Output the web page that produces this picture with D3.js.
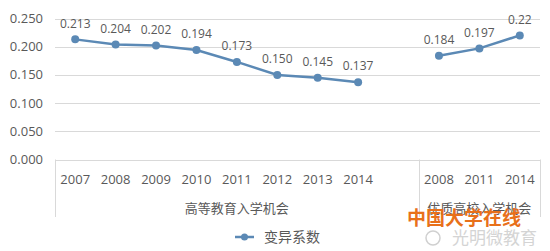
<!DOCTYPE html>
<meta charset="utf-8">
<style>
body{ margin:0; background:#fff; }
text{ font-family:"Open Sans","Noto Sans CJK SC",sans-serif; fill:#595959; }
.cjk{ font-family:"Noto Sans CJK SC",sans-serif; }
.grid line{ stroke:#d9d9d9; stroke-width:1; }
.series{ fill:none; stroke:#5b89b5; stroke-width:2.5; }
.dot{ fill:#5b89b5; }
</style>
<body>
<script src="https://d3js.org/d3.v7.min.js"></script>
<script>

var years1=["2007","2008","2009","2010","2011","2012","2013","2014"];
var values1=[0.213,0.204,0.202,0.194,0.173,0.150,0.145,0.137];
var years2=["2008","2011","2014"];
var values2=[0.184,0.197,0.22];
var groups=["高等教育入学机会","优质高校入学机会"];
var yTicks=[0,0.05,0.1,0.15,0.2,0.25];
var seriesName="变异系数";

var W=550,H=251;
var svg=d3.select("body").append("svg").attr("width",W).attr("height",H);

// 12 slots: group 1 (8 years + an empty slot), group 2 (3 years)
var keys=years1.map(d=>"a"+d).concat(["gap"]).concat(years2.map(d=>"b"+d));
var x=d3.scaleBand().domain(keys).range([55,540]).padding(0);
var y=d3.scaleLinear().domain([0,0.25]).range([159.5,18.5]);

// grid
svg.append("g").attr("class","grid").selectAll("line").data(yTicks).enter().append("line")
  .attr("x1",55).attr("x2",540)
  .attr("y1",d=>Math.round(y(d))+0.5).attr("y2",d=>Math.round(y(d))+0.5);

svg.append("g").selectAll("text").data(yTicks).enter().append("text")
  .attr("x",43).attr("y",d=>y(d)).attr("dy","0.35em")
  .attr("text-anchor","end").style("font-size","13px")
  .text(d=>d3.format(".3f")(d));

// category axis
var bounds=[x("a2007"),x("b2008"),x("b2014")+x.bandwidth()];
svg.append("g").attr("class","grid").selectAll("line").data(bounds).enter().append("line")
  .attr("x1",d=>Math.round(d)+0.5).attr("x2",d=>Math.round(d)+0.5)
  .attr("y1",159.5).attr("y2",217);

var cats=years1.map(d=>({k:"a"+d,t:d})).concat(years2.map(d=>({k:"b"+d,t:d})));
svg.append("g").selectAll("text").data(cats).enter().append("text")
  .attr("x",d=>x(d.k)+x.bandwidth()/2).attr("y",179).attr("dy","0.35em")
  .attr("text-anchor","middle").style("font-size","13px")
  .text(d=>d.t);

var gpos=[(bounds[0]+bounds[1])/2,(bounds[1]+bounds[2])/2];
svg.append("g").selectAll("text").data(groups).enter().append("text")
  .attr("class","cjk")
  .attr("x",(d,i)=>gpos[i]).attr("y",208).attr("dy","0.35em")
  .attr("text-anchor","middle").style("font-size","13px")
  .text(d=>d);

// series
var sets=[
  {pts:years1.map((d,i)=>({k:"a"+d,v:values1[i]})),fmt:d3.format(".3f")},
  {pts:years2.map((d,i)=>({k:"b"+d,v:values2[i]})),fmt:String}
];
var line=d3.line().x(d=>x(d.k)+x.bandwidth()/2).y(d=>y(d.v));

sets.forEach(function(s){
  svg.append("path").datum(s.pts).attr("class","series").attr("d",line);
  svg.append("g").selectAll("circle").data(s.pts).enter().append("circle")
    .attr("class","dot").attr("r",4)
    .attr("cx",d=>x(d.k)+x.bandwidth()/2).attr("cy",d=>y(d.v));
  svg.append("g").selectAll("text").data(s.pts).enter().append("text")
    .attr("x",d=>x(d.k)+x.bandwidth()/2).attr("y",d=>y(d.v)-16).attr("dy","0.35em")
    .attr("text-anchor","middle").style("font-size","12px")
    .text(d=>s.fmt(d.v));
});

// legend
var lg=svg.append("g").attr("transform","translate(235,237)");
lg.append("line").attr("x1",0).attr("x2",19).attr("stroke","#5b89b5").attr("stroke-width",2.5);
lg.append("circle").attr("class","dot").attr("cx",9.5).attr("r",3.5);
lg.append("text").attr("class","cjk").attr("x",29).attr("dy","0.35em")
  .style("font-size","14px").text(seriesName);

// watermark
svg.append("text").attr("class","cjk").attr("x",407).attr("y",218).attr("dy","0.35em")
  .style("font-size","19px").style("font-weight","bold").style("fill","#e8701a")
  .text("中国大学在线");
svg.append("circle").attr("cx",433).attr("cy",238).attr("r",7)
  .attr("fill","none").attr("stroke","#d0d0d0").attr("stroke-width",1.5);
svg.append("text").attr("class","cjk").attr("x",452).attr("y",238).attr("dy","0.35em")
  .style("font-size","17px").style("fill","#d4d4d4")
  .text("光明微教育");
</script>
</body>
</html>
